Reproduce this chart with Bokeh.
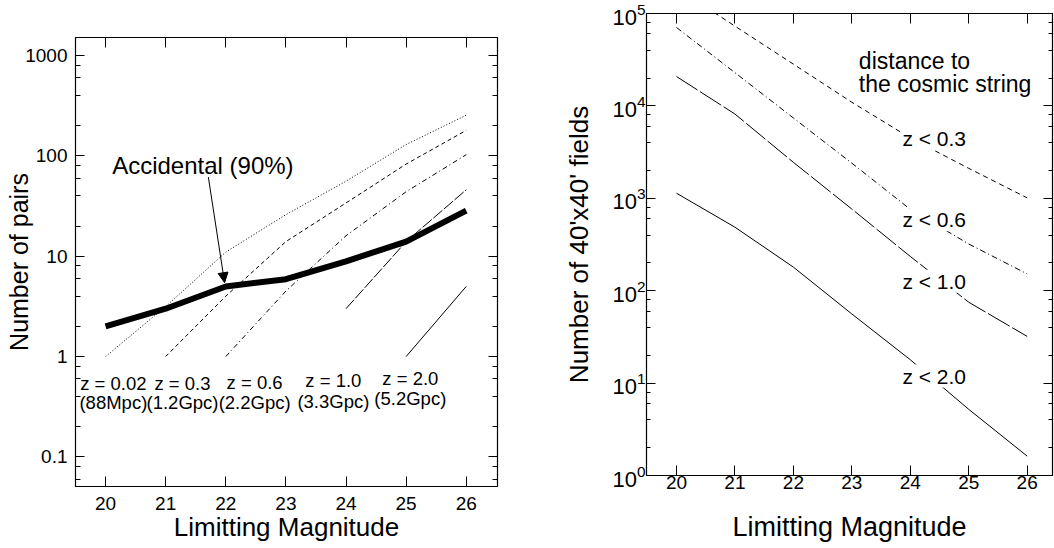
import math
from bokeh.plotting import figure
from bokeh.models import (Range1d, LinearAxis, LogAxis, LabelSet, ColumnDataSource,
                          Arrow, NormalHead, FixedTicker, LogTicker, CustomJSTickFormatter)
from bokeh.layouts import row
from bokeh.embed import file_html
from bokeh.resources import INLINE
from bokeh.core.properties import value

FONT = "Liberation Sans"

# ---------------- data: left panel (Number of pairs) ----------------
mag = [20, 21, 22, 23, 24, 25, 26]
accidental = [2.0, 3.0, 5.0, 5.9, 8.9, 14.0, 28.5]
mag_z002 = [20, 21, 22, 23, 24, 25, 26]
pairs_z002 = [1.0, 3.15, 11.0, 26.0, 56.0, 130.0, 255.0]
mag_z03 = [21, 22, 23, 24, 25, 26]
pairs_z03 = [1.0, 4.0, 14.0, 34.0, 83.0, 180.0]
mag_z06 = [22, 23, 24, 25, 26]
pairs_z06 = [1.0, 4.5, 16.0, 44.0, 103.0]
mag_z10 = [24, 25, 26]
pairs_z10 = [3.0, 14.0, 46.0]
mag_z20 = [25, 26]
pairs_z20 = [1.0, 5.0]

z_text = ["z = 0.02", "z = 0.3", "z = 0.6", "z = 1.0", "z = 2.0"]
d_text = ["(88Mpc)", "(1.2Gpc)", "(2.2Gpc)", "(3.3Gpc)", "(5.2Gpc)"]
z_text_x = [20.13, 21.28, 22.48, 23.79, 25.07]
z_text_y = [0.46, 0.465, 0.475, 0.50, 0.515]
d_text_y = [0.30, 0.30, 0.30, 0.31, 0.325]

acc_text = ["Accidental (90%)"]
acc_text_x = [20.11]
acc_text_y = [65.5]

# ---------------- data: right panel (Number of fields) ----------------
fields_z03 = [190000, 73000, 28300, 10950, 4500, 2110, 1010]
fields_z06 = [70600, 22900, 7400, 2400, 760, 320, 152]
fields_z10 = [20800, 8170, 2450, 765, 235, 75, 32]
fields_z20 = [1135, 487, 180, 56, 17.9, 5.2, 1.62]

right_text = ["z < 0.3", "z < 0.6", "z < 1.0", "z < 2.0"]
right_text_x = [23.865, 23.865, 23.865, 23.865]
right_text_y = [3720, 487, 105, 9.9]

title_text = ["distance to", "the cosmic string"]
title_text_x = [23.12, 23.12]
title_text_y = [25100, 14060]

BLANK = CustomJSTickFormatter(code="return ''")


def style_axis(ax, show_labels=True, minor=True, tick_in=10):
    ax.axis_line_color = "black"
    ax.axis_line_width = 1.2
    ax.major_tick_in = tick_in
    ax.major_tick_out = 0
    ax.major_tick_line_color = "black"
    ax.minor_tick_in = 5 if minor else 0
    ax.minor_tick_out = 0
    ax.minor_tick_line_color = "black" if minor else None
    ax.major_label_text_font = FONT
    ax.major_label_text_color = "black"
    ax.axis_label_text_font = FONT
    ax.axis_label_text_font_style = "normal"
    ax.axis_label_text_color = "black"
    if not show_labels:
        ax.formatter = BLANK
        ax.major_label_text_font_size = "1px"
        ax.major_label_standoff = 0


def add_texts(p, xs, ys, texts, size, align="left", bg=None):
    src = ColumnDataSource(dict(x=xs, y=ys, t=texts))
    kw = dict(background_fill_color=bg) if bg else {}
    p.add_layout(LabelSet(x="x", y="y", text="t", source=src, text_align=align,
                          text_baseline="alphabetic", text_font=value(FONT),
                          text_font_size=value(size), text_color="black", **kw))


# ================= LEFT =================
p1 = figure(width=520, height=548, x_range=Range1d(19.5, 26.52), y_range=Range1d(0.0506, 1518),
            y_axis_type="log", output_backend="svg", toolbar_location=None,
            min_border_left=75, min_border_right=23, min_border_top=37, min_border_bottom=62)
p1.grid.visible = False
p1.outline_line_color = "black"

p1.xaxis.ticker = FixedTicker(ticks=mag)
style_axis(p1.xaxis[0], minor=False)
p1.xaxis.major_label_text_font_size = "19px"
p1.xaxis.major_label_standoff = 10
p1.xaxis.axis_label = "Limitting Magnitude"
p1.xaxis.axis_label_text_font_size = "26px"
p1.xaxis.axis_label_standoff = -1

p1.yaxis.ticker = LogTicker()
p1.yaxis.formatter = CustomJSTickFormatter(code="return String(+tick.toPrecision(3))")
style_axis(p1.yaxis[0], tick_in=9)
p1.yaxis.major_label_text_font_size = "19px"
p1.yaxis.major_label_standoff = 8
p1.yaxis.axis_label = "Number of pairs"
p1.yaxis.axis_label_text_font_size = "25px"
p1.yaxis.axis_label_standoff = -11

top1 = LinearAxis(ticker=FixedTicker(ticks=mag))
style_axis(top1, show_labels=False, minor=False)
p1.add_layout(top1, "above")
right1 = LogAxis(ticker=LogTicker())
style_axis(right1, show_labels=False, tick_in=9)
p1.add_layout(right1, "right")

p1.line(mag_z002, pairs_z002, line_color="black", line_width=1, line_dash="1 2")
p1.line(mag_z03, pairs_z03, line_color="black", line_width=1, line_dash="4 3")
p1.line(mag_z06, pairs_z06, line_color="black", line_width=1, line_dash="5 3 1 3")
p1.line(mag_z10, pairs_z10, line_color="black", line_width=1, line_dash="12 2")
p1.line(mag_z20, pairs_z20, line_color="black", line_width=1)
p1.line(mag, accidental, line_color="black", line_width=6)

p1.add_layout(Arrow(end=NormalHead(size=10, fill_color="black", line_color="black", line_width=1),
                    x_start=21.71, y_start=61.6, x_end=21.98, y_end=5.45,
                    line_color="black", line_width=1))
add_texts(p1, acc_text_x, acc_text_y, acc_text, "24px")
add_texts(p1, z_text_x, z_text_y, z_text, "18.5px", align="center")
add_texts(p1, z_text_x, d_text_y, d_text, "18.5px", align="center")

# ================= RIGHT =================
p2 = figure(width=534, height=548, x_range=Range1d(19.487, 26.433), y_range=Range1d(1, 1e5),
            y_axis_type="log", output_backend="svg", toolbar_location=None,
            min_border_left=126, min_border_right=2, min_border_top=13, min_border_bottom=73)
p2.grid.visible = False
p2.outline_line_color = "black"

p2.xaxis.ticker = FixedTicker(ticks=mag)
style_axis(p2.xaxis[0], minor=False)
p2.xaxis.major_label_text_font_size = "19px"
p2.xaxis.major_label_standoff = 0
p2.xaxis.axis_label = "Limitting Magnitude"
p2.xaxis.axis_label_text_font_size = "27px"
p2.xaxis.axis_label_standoff = 20

p2.yaxis.ticker = LogTicker()
style_axis(p2.yaxis[0], tick_in=9)
p2.yaxis.minor_tick_in = 4
p2.yaxis.major_label_text_font_size = "22px"
p2.yaxis.major_label_standoff = 1
p2.yaxis.axis_label = "Number of 40'x40' fields"
p2.yaxis.axis_label_text_font_size = "26px"
p2.yaxis.axis_label_standoff = 15

top2 = LinearAxis(ticker=FixedTicker(ticks=mag))
style_axis(top2, show_labels=False, minor=False)
p2.add_layout(top2, "above")
right2 = LogAxis(ticker=LogTicker())
style_axis(right2, show_labels=False, tick_in=9)
right2.minor_tick_in = 4
p2.add_layout(right2, "right")

p2.line(mag, fields_z03, line_color="black", line_width=1, line_dash="5 4")
p2.line(mag, fields_z06, line_color="black", line_width=1, line_dash="6 3 1 3")
p2.line(mag, fields_z10, line_color="black", line_width=1, line_dash="25 3")
p2.line(mag, fields_z20, line_color="black", line_width=1)

add_texts(p2, right_text_x, right_text_y, right_text, "21px", bg="white")
add_texts(p2, title_text_x, title_text_y, title_text, "23px")

for p in (p1, p2):
    if "frame_align" in p.properties():
        p.frame_align = False

layout = row(p1, p2)
open("out.html", "w").write(file_html(layout, INLINE))
